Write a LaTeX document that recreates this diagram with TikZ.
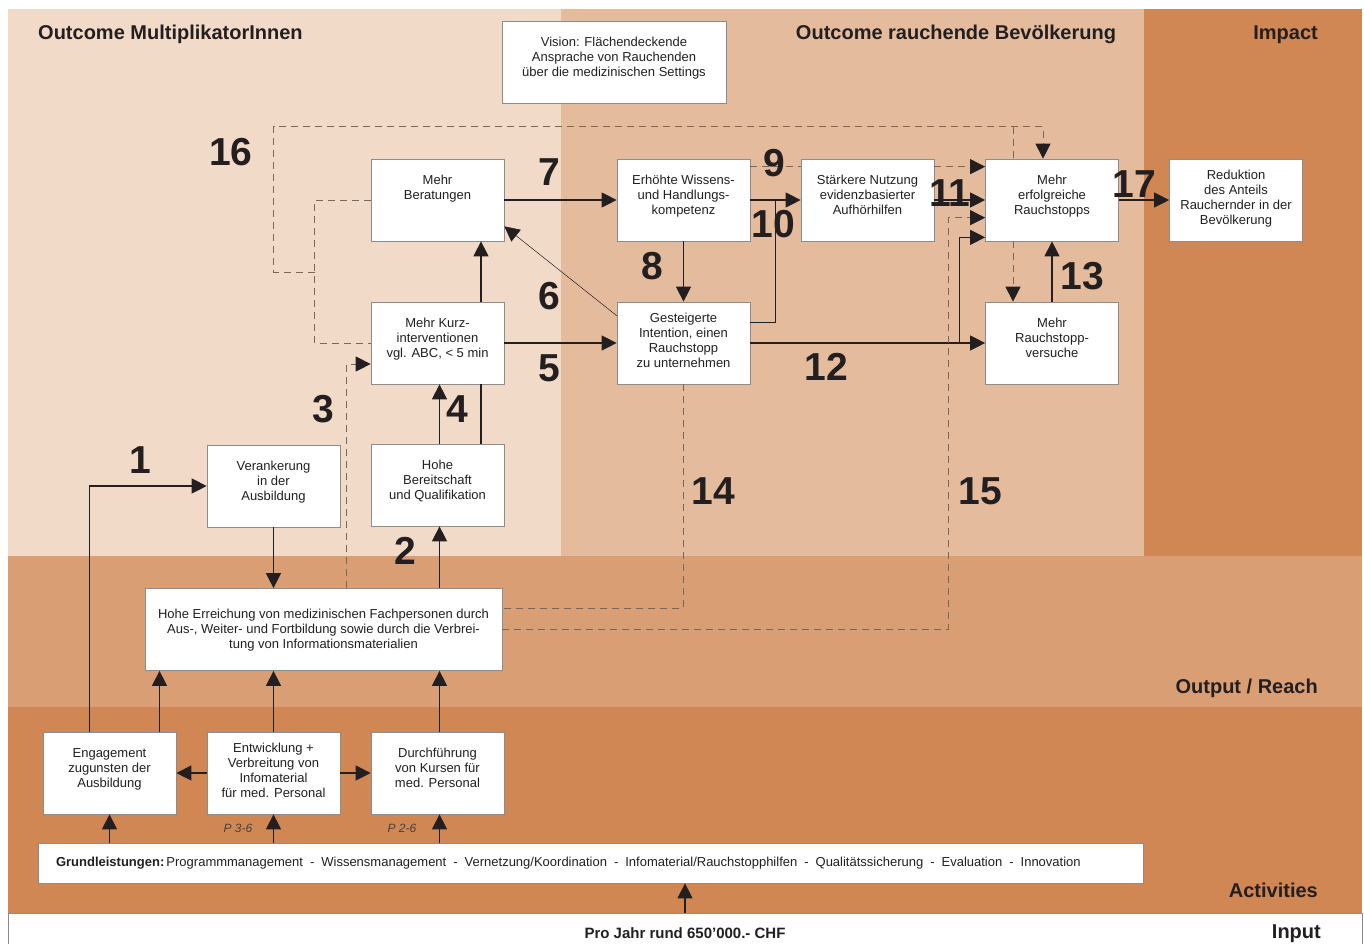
\documentclass[tikz,border=0pt]{standalone}
\usepackage{fontspec}
\setmainfont{Liberation Sans}
\usepackage{xcolor}
\usepackage{tikz}
\usetikzlibrary{arrows.meta,calc}
\definecolor{bandlight}{HTML}{F2DAC8}
\definecolor{bandmid}{HTML}{E4BC9D}
\definecolor{banddark}{HTML}{D08754}
\definecolor{bandout}{HTML}{D99E74}
\definecolor{inkblack}{HTML}{231F20}
\definecolor{boxline}{HTML}{8C8C8C}
\definecolor{dashgray}{HTML}{75685F}
\tikzset{
  cell/.style={rectangle, draw=boxline, line width=0.7pt, fill=white,
               inner sep=0pt, text=inkblack, font=\fontsize{13}{15}\selectfont},
  arr/.style={-{Triangle[length=15pt,width=15pt]}, line width=1.1pt, draw=inkblack},
  ln/.style={line width=1.1pt, draw=inkblack},
  thinarr/.style={-{Triangle[length=15pt,width=15pt]}, line width=0.5pt, draw=inkblack},
  darr/.style={-{Triangle[length=15pt,width=15pt,color=inkblack]}, line width=0.9pt,
               draw=dashgray, dash pattern=on 7pt off 5pt},
  dln/.style={line width=0.9pt, draw=dashgray, dash pattern=on 7pt off 5pt},
  stepnum/.style={font=\fontsize{39}{39}\selectfont\bfseries, text=inkblack, inner sep=0pt},
  bandtitle/.style={font=\fontsize{20}{24}\selectfont\bfseries, text=inkblack, inner sep=0pt},
  pnote/.style={font=\fontsize{12}{14}\selectfont\itshape, text=inkblack!85, inner sep=0pt},
}
\newcommand{\celltext}[4]{\begin{minipage}[c][#2][t]{#1}\centering\rule{0pt}{#3}#4\end{minipage}}
\newcommand{\stdcell}[2][25pt]{\celltext{133pt}{82pt}{#1}{#2}}
\newcommand{\gsep}{\hspace{7pt}-\hspace{7pt}}

\begin{document}
\begin{tikzpicture}[x=1pt,y=-1pt]
  \useasboundingbox (0,0) rectangle (1364,943);
  % bands
  \fill[bandlight] (8,9) rectangle (561,556);
  \fill[bandmid]   (561,9) rectangle (1144,556);
  \fill[banddark]  (1144,9) rectangle (1362,556);
  \fill[bandout]   (8,556) rectangle (1362,707);
  \fill[banddark]  (8,707) rectangle (1362,913);
  \draw[boxline, line width=0.7pt, fill=white] (8,913) rectangle (1362,950);

  \node[bandtitle, anchor=base west] (tmulti) at (38,39)   {Outcome MultiplikatorInnen};
  \node[bandtitle, anchor=base]      (tpop)   at (956,39)  {Outcome rauchende Bevölkerung};
  \node[bandtitle, anchor=base east] (timp)   at (1318,39) {Impact};
  \node[bandtitle, anchor=base east] (tout)   at (1318,693) {Output / Reach};
  \node[bandtitle, anchor=base east] (tact)   at (1318,897) {Activities};
  \node[bandtitle, anchor=base east] (tinp)   at (1321,938) {Input};
  \node[font=\fontsize{15}{17}\selectfont\bfseries, text=inkblack, inner sep=0pt, anchor=base]
       (budget) at (685,938) {Pro Jahr rund 650’000.- CHF};

  \node[cell] (vision) at (614,62)
       {\celltext{224pt}{82pt}{25pt}{Vision: Flächendeckende\\Ansprache von Rauchenden\\über die medizinischen Settings}};
  \node[cell] (berat)  at (437.5,200) {\stdcell{Mehr\\Beratungen}};
  \node[cell] (wiss)   at (683.5,200) {\stdcell{Erhöhte Wissens-\\und Handlungs-\\kompetenz}};
  \node[cell] (staerk) at (867.5,200) {\stdcell{Stärkere Nutzung\\evidenzbasierter\\Aufhörhilfen}};
  \node[cell] (erfolg) at (1052,200)  {\stdcell{Mehr\\erfolgreiche\\Rauchstopps}};
  \node[cell] (redu)   at (1236,200)  {\stdcell[20pt]{Reduktion\\des Anteils\\Rauchernder in der\\Bevölkerung}};
  \node[cell] (kurz)   at (437.5,343) {\stdcell{Mehr Kurz-\\interventionen\\vgl. ABC, < 5 min}};
  \node[cell] (ges)    at (683.5,343) {\stdcell[20pt]{Gesteigerte\\Intention, einen\\Rauchstopp\\zu unternehmen}};
  \node[cell] (vers)   at (1052,343)  {\stdcell{Mehr\\Rauchstopp-\\versuche}};
  \node[cell] (veran)  at (273.5,486) {\stdcell{Verankerung\\in der\\Ausbildung}};
  \node[cell] (bereit) at (437.5,485) {\stdcell{Hohe\\Bereitschaft\\und Qualifikation}};
  \node[cell] (erreich) at (323.5,629.5)
       {\celltext{357pt}{82pt}{30pt}{Hohe Erreichung von medizinischen Fachpersonen durch\\Aus-, Weiter- und Fortbildung sowie durch die Verbrei-\\tung von Informationsmaterialien}};
  \node[cell] (eng)    at (109.5,773) {\stdcell{Engagement\\zugunsten der\\Ausbildung}};
  \node[cell] (entw)   at (273.5,773) {\stdcell[20pt]{Entwicklung +\\Verbreitung von\\Infomaterial\\für med. Personal}};
  \node[cell] (durch)  at (437.5,773) {\stdcell{Durchführung\\von Kursen für\\med. Personal}};
  \node[cell, minimum width=1105pt, minimum height=40pt] (grund) at (590.5,863)
       {\makebox[1069pt][l]{\textbf{Grundleistungen:}\,Programmmanagement\gsep Wissensmanagement\gsep Vernetzung/Koordination\gsep Infomaterial/Rauchstopphilfen\gsep Qualitätssicherung\gsep Evaluation\gsep Innovation}};
  \node[pnote] (p36) at (238,828) {P 3-6};
  \node[pnote] (p26) at (402,828) {P 2-6};

  \draw[arr] (berat.east) -- (wiss.west);
  \draw[arr] (wiss.south) -- (ges.north);
  \draw[arr] (wiss.east) -- (staerk.west);
  \draw[ln] ($(ges.north east)+(0,21)$) -| ($(wiss.east)!0.5!(staerk.west)$);
  \draw[thinarr] ($(ges.north west)+(0,14)$) -- ($(berat.south east)+(0,-15)$);
  \draw[arr] (kurz.east) -- (ges.west);
  \draw[arr] ($(kurz.north)+(43.5,0)$) -- ($(berat.south)+(43.5,0)$);
  \draw[arr] ($(bereit.north)+(2,0)$) -- ($(kurz.south)+(2,0)$);
  \draw[ln] ($(bereit.north)+(43.5,0)$) -- ($(kurz.south)+(43.5,0)$);
  \draw[arr] (staerk.east) -- (erfolg.west);
  \draw[arr] (ges.east) -- (vers.west);
  \coordinate (b12) at ($(vers.west)+(-26,0)$);
  \draw[arr] (b12) |- ($(erfolg.south west)+(0,-4)$);
  \draw[arr] (vers.north) -- (erfolg.south);
  \draw[arr] (erfolg.east) -- (redu.west);

  \coordinate (e1) at ($(eng.north)+(-20,0)$);
  \draw[arr] (e1) |- (veran.west);
  \draw[arr] (veran.south) -- (veran.south |- erreich.north);
  \draw[arr] ($(erreich.north -| bereit.south)+(2,0)$) -- ($(bereit.south)+(2,0)$);
  \coordinate (e2) at ($(eng.north)+(50,0)$);
  \draw[arr] (e2) -- (e2 |- erreich.south);
  \draw[arr] (entw.north) -- (entw.north |- erreich.south);
  \draw[arr] ($(durch.north)+(2,0)$) -- ($(durch.north |- erreich.south)+(2,0)$);
  \draw[arr] (entw.west) -- (eng.east);
  \draw[arr] (entw.east) -- (durch.west);
  \draw[arr] (eng.south |- grund.north) -- (eng.south);
  \draw[arr] (entw.south |- grund.north) -- (entw.south);
  \draw[arr] ($(durch.south |- grund.north)+(2,0)$) -- ($(durch.south)+(2,0)$);
  \coordinate (inp) at (685,913);
  \draw[arr] (inp) -- (inp |- grund.south);

  \draw[darr] ($(erreich.north west)+(202,0)$) |- ($(kurz.west)+(0,21)$);
  \draw[dln] ($(wiss.north east)+(0,8)$) -- ($(staerk.north west)+(0,8)$);
  \draw[darr] ($(staerk.north east)+(0,8)$) -- ($(erfolg.north west)+(0,8)$);
  \draw[dln] (ges.south) |- ($(erreich.north east)+(0,20)$);
  \draw[darr] ($(erreich.north east)+(0,41)$) -| ($(erfolg.north west)+(-37,59)$) -- ($(erfolg.north west)+(0,59)$);
  \draw[dln] (berat.west) -| ($(kurz.west)+(-56,0)$) -- (kurz.west);
  \coordinate (j16) at ($(kurz.west)+(-56,-71)$);
  \draw[darr] (j16) -- ++(-41,0) |- ($(erfolg.north)+(-9,-32)$) -- ($(erfolg.north)+(-9,0)$);
  \draw[dln] ($(erfolg.north)+(-39,-32)$) -- ($(erfolg.north)+(-39,0)$);
  \draw[darr] ($(erfolg.south)+(-39,0)$) -- ($(vers.north)+(-39,0)$);

  \node[stepnum] (n1)  at (140,460)  {1};
  \node[stepnum] (n2)  at (405,551)  {2};
  \node[stepnum] (n3)  at (323,409)  {3};
  \node[stepnum] (n4)  at (457,409)  {4};
  \node[stepnum] (n5)  at (549,368)  {5};
  \node[stepnum] (n6)  at (549,296)  {6};
  \node[stepnum] (n7)  at (549,172)  {7};
  \node[stepnum] (n8)  at (652,266)  {8};
  \node[stepnum] (n9)  at (774,163)  {9};
  \node[stepnum] (n10) at (773.5,224) {10};
  \node[stepnum] (n11) at (950,193)  {11};
  \node[stepnum] (n12) at (826,367)  {12};
  \node[stepnum] (n13) at (1082,276) {13};
  \node[stepnum] (n14) at (713,491)  {14};
  \node[stepnum] (n15) at (980,491)  {15};
  \node[stepnum] (n16) at (231,152.5) {16};
  \node[stepnum] (n17) at (1134,184) {17};
\end{tikzpicture}
\end{document}
